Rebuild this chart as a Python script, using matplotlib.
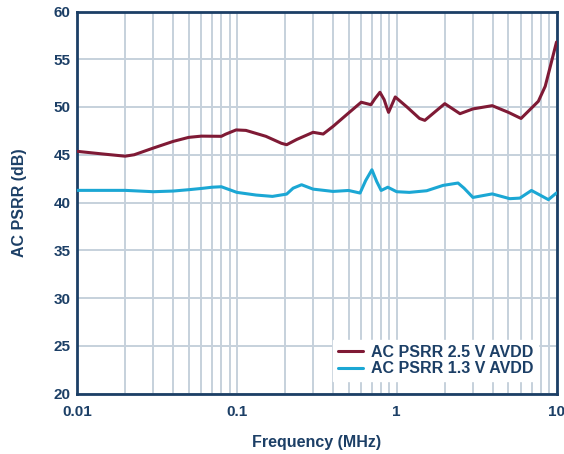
import matplotlib
matplotlib.use("Agg")
import matplotlib.pyplot as plt
from matplotlib.ticker import LogLocator, FixedLocator, NullFormatter

plt.rcParams['font.family'] = ['Liberation Sans', 'DejaVu Sans']

freq_25 = [0.01, 0.0145, 0.02, 0.0228, 0.03, 0.04, 0.05, 0.06, 0.08, 0.085, 0.099, 0.114, 0.152,
           0.19, 0.205, 0.237, 0.30, 0.347, 0.40, 0.50, 0.60, 0.69, 0.73, 0.786, 0.835, 0.865, 0.89,
           0.98, 1.16, 1.39, 1.5, 2.0, 2.49, 3.0, 3.96, 5.0, 6.0, 7.7, 8.5, 9.1, 10.0]
psrr_25 = [45.36, 45.08, 44.85, 45.0, 45.7, 46.4, 46.82, 46.95, 46.93, 47.15, 47.6, 47.55, 46.93,
           46.2, 46.05, 46.6, 47.35, 47.17, 47.97, 49.37, 50.5, 50.24, 50.85, 51.54, 50.77, 50.0, 49.44,
           51.05, 50.0, 48.8, 48.6, 50.35, 49.3, 49.8, 50.14, 49.44, 48.8, 50.6, 52.17, 54.1, 56.8]

freq_13 = [0.01, 0.02, 0.03, 0.04, 0.05, 0.06, 0.07, 0.08, 0.09, 0.1, 0.132, 0.167, 0.205, 0.225,
           0.254, 0.30, 0.40, 0.50, 0.59, 0.64, 0.70, 0.75, 0.80, 0.88, 1.0, 1.2, 1.54, 1.95, 2.42,
           2.64, 3.0, 3.96, 5.1, 5.9, 6.97, 8.9, 10.0]
psrr_13 = [41.27, 41.27, 41.13, 41.2, 41.34, 41.47, 41.6, 41.65, 41.34, 41.06, 40.78, 40.64, 40.88, 41.5,
           41.86, 41.4, 41.16, 41.26, 40.99, 42.3, 43.43, 42.2, 41.26, 41.6, 41.13, 41.06, 41.23, 41.79, 42.04,
           41.5, 40.53, 40.9, 40.4, 40.46, 41.26, 40.3, 41.0]

x_ticks = [0.01, 0.1, 1, 10]
x_labels = ["0.01", "0.1", "1", "10"]
y_ticks = [20, 25, 30, 35, 40, 45, 50, 55, 60]

navy = "#1c3f66"
red = "#7f1a35"
blue = "#1ba7d4"
grid_c = "#c6d1dc"

fig = plt.figure(figsize=(5.64, 4.54), dpi=100)
ax = fig.add_axes([77/564, 1-393.5/454, (556.5-77)/564, (393.5-11.5)/454])
ax.set_xscale("log")
ax.set_xlim(0.01, 10)
ax.set_ylim(20, 60)

ax.plot(freq_25, psrr_25, color=red, lw=2.2, solid_joinstyle="round", solid_capstyle="round",
        label="AC PSRR 2.5 V AVDD", zorder=3)
ax.plot(freq_13, psrr_13, color=blue, lw=2.2, solid_joinstyle="round", solid_capstyle="round",
        label="AC PSRR 1.3 V AVDD", zorder=3)

ax.xaxis.set_major_locator(FixedLocator(x_ticks))
ax.set_xticklabels(x_labels)
ax.xaxis.set_minor_locator(LogLocator(base=10, subs=range(2, 10)))
ax.xaxis.set_minor_formatter(NullFormatter())
ax.set_yticks(y_ticks)

ax.grid(True, which="both", axis="x", color=grid_c, lw=1.4)
ax.grid(True, which="major", axis="y", color=grid_c, lw=1.4)
ax.set_axisbelow(True)

ax.tick_params(which="both", length=0, labelsize=11, labelcolor=navy)
ax.tick_params(axis="y", pad=4.5)
ax.tick_params(axis="x", pad=8)
for lab in ax.get_xticklabels() + ax.get_yticklabels():
    lab.set_fontweight("bold")

for s in ax.spines.values():
    s.set_color(navy)
    s.set_linewidth(2)

ax.set_xlabel("Frequency (MHz)", fontsize=11.5, fontweight="bold", color=navy, labelpad=12)
ax.set_ylabel("AC PSRR (dB)", fontsize=11.5, fontweight="bold", color=navy, labelpad=19)

leg = ax.legend(loc="upper left", bbox_to_anchor=((333-77)/479.5, (393.5-340)/382),
                borderaxespad=0, frameon=True, fontsize=11.5,
                handlelength=1.56, handletextpad=0.5, borderpad=0.3, labelspacing=0.1,
                framealpha=1, edgecolor="white", fancybox=False)
for t in leg.get_texts():
    t.set_color(navy)
    t.set_fontweight("bold")

fig.savefig("out.png", dpi=100)
